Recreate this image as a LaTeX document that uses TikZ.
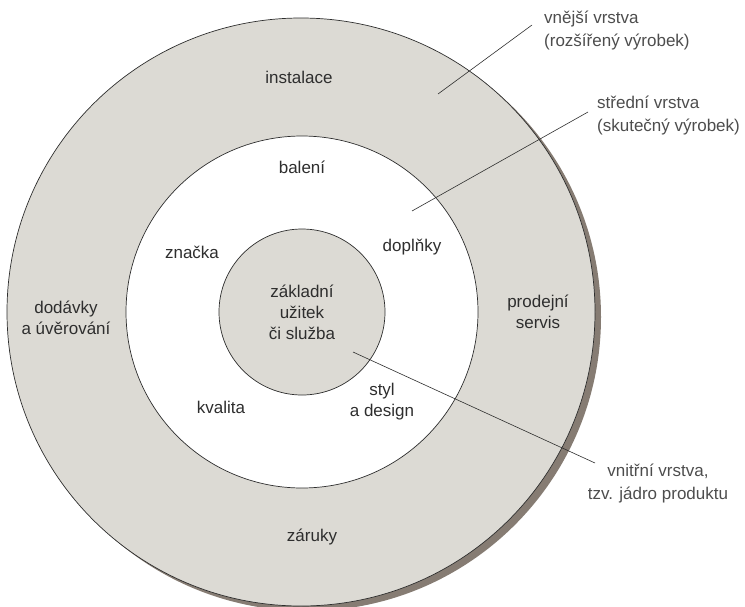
\documentclass[tikz,border=0pt]{standalone}
\usepackage{fontspec}
\setmainfont{Liberation Sans}
\definecolor{ringgray}{HTML}{DCDAD4}
\definecolor{shadowc}{HTML}{867C73}
\definecolor{inkc}{HTML}{2E2E2E}
\begin{document}
\begin{tikzpicture}[x=1pt,y=-1pt,
  ringline/.style={draw=inkc, line width=0.7pt},
  lbl/.style={font=\fontsize{17}{21}\selectfont, text=inkc, align=center, inner sep=0pt},
  side/.style={font=\fontsize{17}{23}\selectfont, text=inkc!85, inner sep=0pt},
  leader/.style={draw=inkc, line width=0.6pt}]
\useasboundingbox (0,0) rectangle (745,606);
% rings
\fill[shadowc] (307,317) circle (294pt);
\path[ringline, fill=ringgray] (301,312) circle (294pt);
\path[ringline, fill=white] (302,312) circle (176pt);
\path[ringline, fill=ringgray] (302,312) circle (83pt);
% texts inside
\node[lbl] (core) at (302,312) {základní\\užitek\\či služba};
\node[lbl] (inst) at (299,77) {instalace};
\node[lbl] (bal) at (302,167) {balení};
\node[lbl] (zn) at (192,252) {značka};
\node[lbl] (dop) at (412,247) {doplňky};
\node[lbl] (dod) at (66,318) {dodávky\\a úvěrování};
\node[lbl] (pro) at (538,312) {prodejní\\servis};
\node[lbl] (kva) at (221,407) {kvalita};
\node[lbl] (sty) at (382,402) {styl\\a design};
\node[lbl] (zar) at (312,537) {záruky};
% side labels
\node[side, anchor=west, align=left] (outl) at (544,31) {vnější vrstva\\(rozšířený výrobek)};
\node[side, anchor=west, align=left] (midl) at (597,116) {střední vrstva\\(skutečný výrobek)};
\node[side, align=center] (innl) at (658,483) {vnitřní vrstva,\\tzv. jádro produktu};
% leader lines
\coordinate (o1) at (438,94);
\coordinate (o2) at (532,25);
\coordinate (m1) at (412,211);
\coordinate (m2) at (588,112);
\coordinate (i1) at (353,352);
\coordinate (i2) at (595,463);
\draw[leader] (o1) -- (o2);
\draw[leader] (m1) -- (m2);
\draw[leader] (i1) -- (i2);
\end{tikzpicture}
\end{document}
